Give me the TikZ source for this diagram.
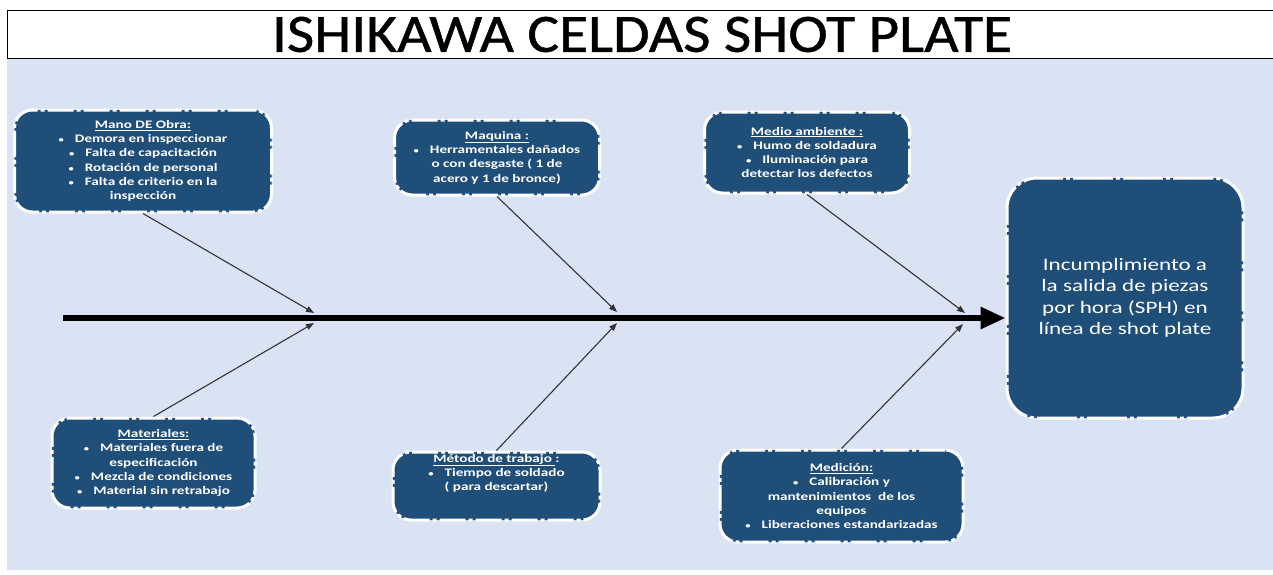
\documentclass[tikz,border=0pt]{standalone}
\usepackage{fontspec}
\setmainfont{Carlito}
\newfontfamily\boxfont[FakeStretch=1.32]{Carlito}
\newfontfamily\titlefont[FakeBold=0.8]{Carlito}
\usetikzlibrary{arrows.meta,calc}
\definecolor{bgblue}{HTML}{DAE3F3}
\definecolor{boxblue}{HTML}{1F4E79}
\definecolor{ribgray}{HTML}{333333}
\newcommand{\bul}{{\fontsize{8}{8}\selectfont\textbullet}\hspace{11pt}}
\begin{document}
\begin{tikzpicture}[x=1pt,y=-1pt,
  causebox/.style={draw=white, line width=3pt, fill=boxblue, rounded corners=18pt,
    dash pattern=on 26pt off 3pt on 4pt off 3pt,
    text=white, font=\boxfont\bfseries\fontsize{11.5}{14.3}\selectfont, align=center,
    inner sep=0pt, anchor=center},
  effectbox/.style={draw=white, line width=3pt, fill=boxblue, rounded corners=30pt,
    dash pattern=on 40pt off 3pt on 4pt off 3pt,
    text=white, font=\boxfont\fontsize{17.5}{21.5}\selectfont, align=center,
    inner sep=0pt, anchor=center},
  rib/.style={draw=ribgray, line width=1.1pt, -{Triangle[length=8pt,width=6pt]}},
  spine/.style={draw=black, line width=6pt, -{Triangle[length=25pt,width=21pt]}}
]
\useasboundingbox (0,0) rectangle (1273,574);
\fill[white] (0,0) rectangle (1273,574);
\fill[bgblue] (7,58) rectangle (1273,570);
\draw[black, line width=1pt] (1273,10) -- (7,10) -- (7,58) -- (1273,58);
\node (title) at (642,34.5) {\resizebox{740pt}{35pt}{\titlefont ISHIKAWA CELDAS SHOT PLATE}};

% cause boxes
\node[causebox, minimum width=257pt, minimum height=102pt] (mano) at (143,161)
  {\underline{Mano DE Obra:}\\ \bul Demora en inspeccionar\\ \bul Falta de capacitación\\ \bul Rotación de personal\\ \bul Falta de criterio en la\\ inspección};
\node[causebox, minimum width=205pt, minimum height=75pt] (maquina) at (497,157.5)
  {\underline{Maquina :}\\ \bul Herramentales dañados\\ o con desgaste ( 1 de\\ acero y 1 de bronce)};
\node[causebox, minimum width=205pt, minimum height=81pt] (medio) at (807,152.5)
  {\underline{Medio ambiente :}\\ \bul Humo de soldadura\\ \bul Iluminación para\\ detectar los defectos};
\node[causebox, minimum width=203pt, minimum height=90pt] (materiales) at (153.5,463)
  {\underline{Materiales:}\\ \bul Materiales fuera de\\ especificación\\ \bul Mezcla de condiciones\\ \bul Material sin retrabajo};
\node[causebox, minimum width=207pt, minimum height=68pt] (metodo) at (496.5,486)
  {\parbox[c][60pt][t]{200pt}{\centering\vspace{-2pt}\underline{Método de trabajo }:\\ \bul Tiempo de soldado\\ ( para descartar)}};
\node[causebox, minimum width=243pt, minimum height=92pt] (medicion) at (841.5,496)
  {\underline{Medición:}\\ \bul Calibración y\\ mantenimientos \ de los\\ equipos\\ \bul Liberaciones estandarizadas};

% effect
\node[effectbox, minimum width=236pt, minimum height=240pt] (effect) at (1125,298)
  {Incumplimiento a\\ la salida de piezas\\ por hora (SPH) en\\ línea de shot plate};

% spine
\coordinate (tail) at (63,318);
\draw[spine] (tail) -- (effect.west |- tail);

% junctions
\coordinate (j1a) at (314,313);
\coordinate (j1b) at (314,323);
\coordinate (j2a) at (617,312);
\coordinate (j2b) at (617,323);
\coordinate (j3a) at (965,313);
\coordinate (j3b) at (963,324);

\draw[rib] (mano.south) -- (j1a);
\draw[rib] (materiales.north) -- (j1b);
\draw[rib] (maquina.south) -- (j2a);
\draw[rib] (metodo.north) -- (j2b);
\draw[rib] (medio.south) -- (j3a);
\draw[rib] (medicion.north) -- (j3b);
\end{tikzpicture}
\end{document}
